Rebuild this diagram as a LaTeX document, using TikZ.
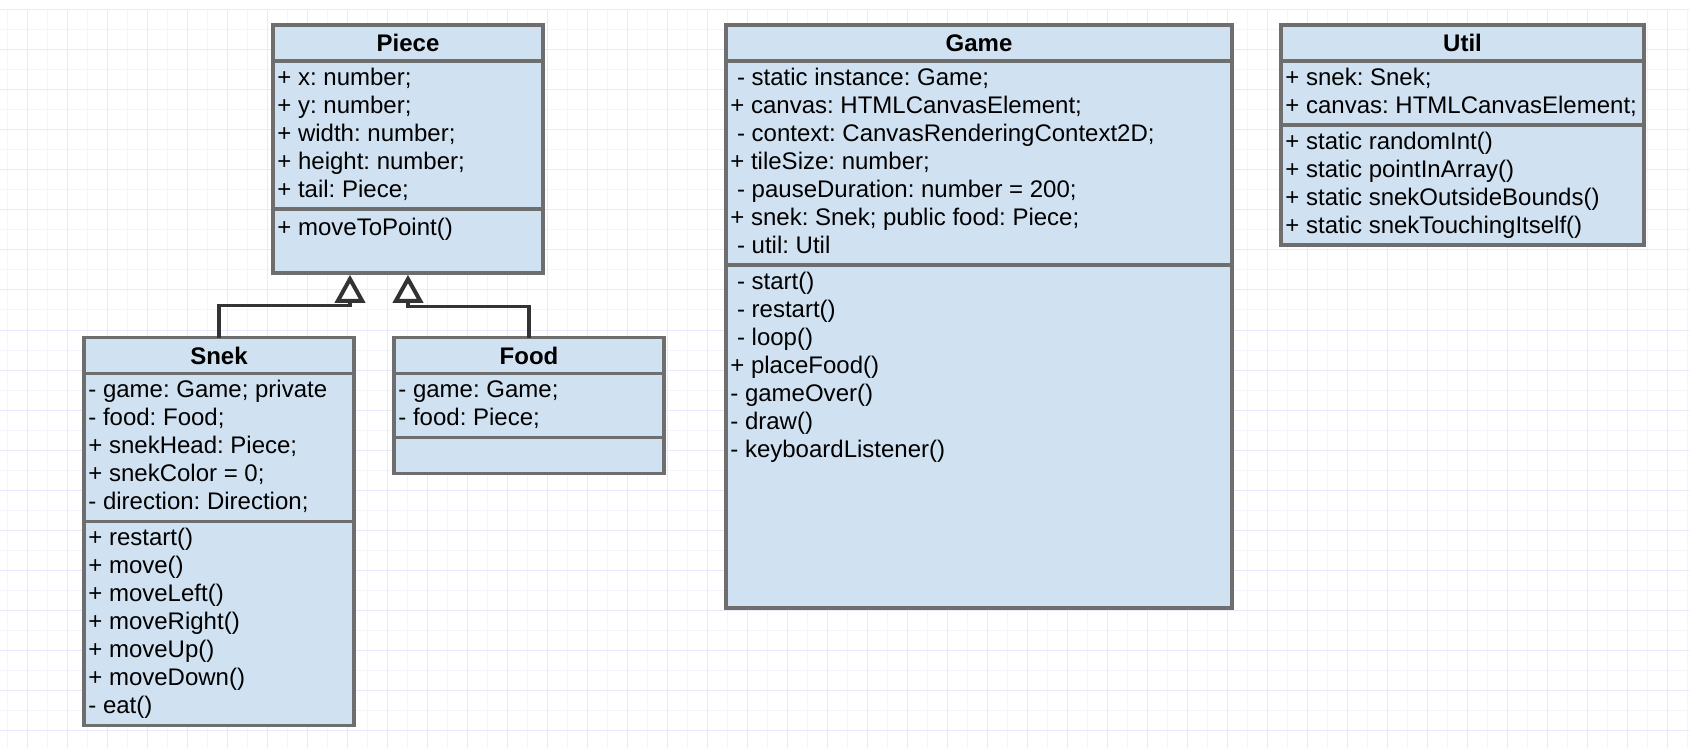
\documentclass[tikz,border=0pt]{standalone}
\usepackage{fontspec}
\setmainfont{Liberation Sans}
\usetikzlibrary{arrows.meta,positioning}

\definecolor{umlfill}{RGB}{208,225,241}
\definecolor{umlline}{RGB}{110,110,110}
\definecolor{linkline}{RGB}{51,51,51}
\definecolor{gridminor}{RGB}{245,244,253}
\definecolor{gridmajor}{RGB}{234,232,251}
\newcommand{\umlfont}{\fontsize{12pt}{14pt}\selectfont\frenchspacing}

\tikzset{
  % one compartment of a class box
  cls/.style={rectangle, draw=umlline, fill=umlfill, line width=1.8pt, inner sep=0pt, outer sep=0pt},
  hdr/.style={cls, minimum height=18pt, font=\umlfont\bfseries},
  % attribute / operation lines, hung from the top left corner of a compartment
  members/.style={anchor=north west, align=left, inner xsep=2pt, inner ysep=3.2pt, font=\umlfont, execute at begin node=\strut},
  inherit/.style={draw=linkline, line width=1.8pt, -{Triangle[open, fill=white, length=14pt, width=15pt, line width=2pt]}, shorten >=0.9pt},
  gridline/.style={line width=0.5pt}}

\begin{document}
\begin{tikzpicture}[x=0.5pt, y=-0.5pt]

\useasboundingbox [fill=white] (0,0) rectangle (1689,748);

% background grid
\foreach \gx in {7,47,...,1687} \draw [gridline, gridminor] (\gx,10) -- (\gx,748);
\foreach \gy in {30,70,...,730} \draw [gridline, gridminor] (0,\gy) -- (1689,\gy);
\foreach \gx in {27,67,...,1667} \draw [gridline, gridmajor] (\gx,10) -- (\gx,748);
\foreach \gy in {10,50,...,730} \draw [gridline, gridmajor] (0,\gy) -- (1689,\gy);

% Piece
\draw (408,25) node (piece) [below, hdr, minimum width=135pt] {Piece};
\draw (piece.south) node (piece-a) [below, cls, minimum width=135pt, minimum height=74pt] {};
\draw (piece-a.north west) node [members] {+ x: number;\\+ y: number;\\+ width: number;\\+ height: number;\\+ tail: Piece;};
\draw (piece-a.south) node (piece-m) [below, cls, minimum width=135pt, minimum height=32pt] {};
\draw (piece-m.north west) node [members] {+ moveToPoint()};

% Snek
\draw (219,337.5) node (snek) [below, hdr, minimum width=135pt] {Snek};
\draw (snek.south) node (snek-a) [below, cls, minimum width=135pt, minimum height=74pt] {};
\draw (snek-a.north west) node [members] {- game: Game; private\\- food: Food;\\+ snekHead: Piece;\\+ snekColor = 0;\\- direction: Direction;};
\draw (snek-a.south) node (snek-m) [below, cls, minimum width=135pt, minimum height=102pt] {};
\draw (snek-m.north west) node [members] {+ restart()\\+ move()\\+ moveLeft()\\+ moveRight()\\+ moveUp()\\+ moveDown()\\- eat()};

% Food
\draw (529,337.5) node (food) [below, hdr, minimum width=135pt] {Food};
\draw (food.south) node (food-a) [below, cls, minimum width=135pt, minimum height=32pt] {};
\draw (food-a.north west) node [members] {- game: Game;\\- food: Piece;};
\draw (food-a.south) node (food-m) [below, cls, minimum width=135pt, minimum height=18pt] {};

% Game
\draw (979,25) node (game) [below, hdr, minimum width=253pt] {Game};
\draw (game.south) node (game-a) [below, cls, minimum width=253pt, minimum height=102pt] {};
\draw (game-a.north west) node [members] {\ - static instance: Game;\\+ canvas: HTMLCanvasElement;\\\ - context: CanvasRenderingContext2D;\\+ tileSize: number;\\\ - pauseDuration: number = 200;\\+ snek: Snek; public food: Piece;\\\ - util: Util};
\draw (game-a.south) node (game-m) [below, cls, minimum width=253pt, minimum height=171.5pt] {};
\draw (game-m.north west) node [members] {\ - start()\\\ - restart()\\\ - loop()\\+ placeFood()\\- gameOver()\\- draw()\\- keyboardListener()};

% Util
\draw (1462.5,25) node (util) [below, hdr, minimum width=181.5pt] {Util};
\draw (util.south) node (util-a) [below, cls, minimum width=181.5pt, minimum height=32pt] {};
\draw (util-a.north west) node [members] {+ snek: Snek;\\+ canvas: HTMLCanvasElement;};
\draw (util-a.south) node (util-m) [below, cls, minimum width=181.5pt, minimum height=60pt] {};
\draw (util-m.north west) node [members] {+ static randomInt()\\+ static pointInArray()\\+ static snekOutsideBounds()\\+ static snekTouchingItself()};

% generalisation links to Piece
\path (piece-m.south) -- +(-58,0) coordinate (snek-tip);
\path (snek.north) -- +(0,-32) coordinate (snek-bend);
\draw [inherit] (snek.north) -- (snek-bend) -| (snek-tip);

\path (food.north) -- +(0,-31) coordinate (food-bend);
\draw [inherit] (food.north) -- (food-bend) -| (piece-m.south);

\end{tikzpicture}
\end{document}
